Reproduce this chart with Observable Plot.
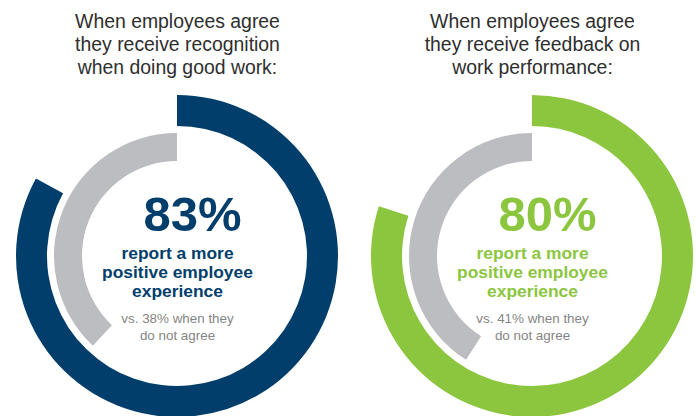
<!DOCTYPE html>
<html><head><meta charset="utf-8">
<script src="https://cdn.jsdelivr.net/npm/d3@7"></script>
<script src="https://cdn.jsdelivr.net/npm/@observablehq/plot@0.6"></script>
<style>body{margin:0;background:#fff} svg{display:block}</style>
</head><body><div id="chart"></div>
<script>
const categories = ["recognition", "feedback"];
const titles = [
  "When employees agree\nthey receive recognition\nwhen doing good work:",
  "When employees agree\nthey receive feedback on\nwork performance:"
];
const agreeValues = [83, 80];
const notAgreeValues = [38, 41];
const headlines = [
  "report a more\npositive employee\nexperience",
  "report a more\npositive employee\nexperience"
];
const ringColors = ["#023e6b", "#8cc63f"];
const grayColor = "#bcbdc1";

const data = categories.map((c, i) => ({
  category: c, title: titles[i], agree: agreeValues[i], notAgree: notAgreeValues[i],
  headline: headlines[i], color: ringColors[i]
}));

const angle = Plot.scale({x: {domain: [0, 100], range: [0, 2 * Math.PI]}});
const CY = 256;
const rings = (index, scales) => {
  const g = d3.create("svg:g");
  const arc = d3.arc();
  for (const d of data) {
    const cx = scales.x(d.category);
    g.append("path")
      .attr("transform", `translate(${cx},${CY})`)
      .attr("fill", d.color)
      .attr("d", arc({innerRadius: 130, outerRadius: 161, startAngle: 0, endAngle: angle.apply(d.agree)}));
    g.append("path")
      .attr("transform", `translate(${cx},${CY})`)
      .attr("fill", grayColor)
      .attr("d", arc({innerRadius: 95, outerRadius: 123, startAngle: -angle.apply(d.notAgree), endAngle: 0}));
  }
  return g.node();
};

const font = "'Liberation Sans', Arial, Helvetica, sans-serif";
const chart = Plot.plot({
  width: 696,
  height: 416,
  margin: 0,
  style: {fontFamily: font, background: "#fff"},
  x: {type: "point", domain: categories, range: [177, 532], padding: 0, axis: null},
  color: {type: "identity"},
  marks: [
    rings,
    Plot.text(data, {x: "category", frameAnchor: "top", dy: 73, text: "title",
      lineAnchor: "bottom", lineHeight: 23 / 19.4, fontSize: 19.4, fill: "#2e2e2e"}),
    Plot.text(data, {x: "category", frameAnchor: "top", dx: 15, dy: 230, text: d => `${d.agree}%`,
      lineAnchor: "bottom", fontSize: 49, fontWeight: "bold", fill: "color"}),
    Plot.text(data, {x: "category", frameAnchor: "top", dy: 296, text: "headline",
      lineAnchor: "bottom", lineHeight: 19 / 17.4, fontSize: 17.4, fontWeight: "bold", fill: "color"}),
    Plot.text(data, {x: "category", frameAnchor: "top", dy: 339.5, text: d => `vs. ${d.notAgree}% when they\ndo not agree`,
      lineAnchor: "bottom", lineHeight: 17 / 13.4, fontSize: 13.4, fill: "#858585"})
  ]
});
document.getElementById("chart").append(chart);
</script>
</body></html>
